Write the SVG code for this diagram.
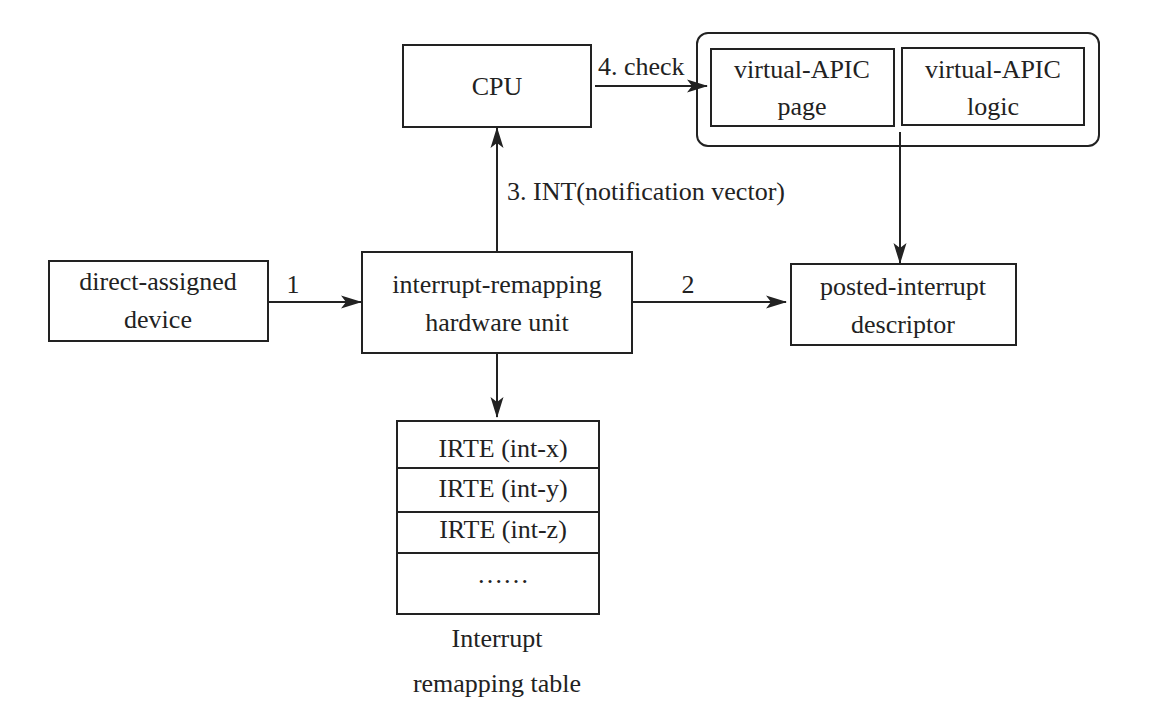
<svg xmlns="http://www.w3.org/2000/svg" width="1152" height="706" viewBox="0 0 1152 706">
<style>
.box{fill:#fff;stroke:#222;stroke-width:2}
.ln{fill:none;stroke:#222;stroke-width:2}
text{font-family:"Liberation Serif","Times New Roman",serif;font-size:26px;fill:#222;text-anchor:middle}
.l{text-anchor:start}
</style>
<defs>
<marker id="ah" markerUnits="userSpaceOnUse" markerWidth="21" markerHeight="14" refX="20" refY="7" orient="auto">
<path d="M0,0.5 L21,7 L0,13.5 L5,7 z" fill="#222"/>
</marker>
</defs>
<rect width="1152" height="706" fill="#fff"/>
<g id="cpu">
<rect class="box" x="403" y="45" width="188" height="82"/>
<text x="497" y="95">CPU</text>
</g>
<g id="vapic">
<rect class="box" x="697" y="33" width="402" height="113" rx="11"/>
<g id="vapic-page">
<rect class="box" x="711" y="49" width="183" height="77"/>
<text x="802" y="78">virtual-APIC</text>
<text x="802" y="115">page</text>
</g>
<g id="vapic-logic">
<rect class="box" x="902" y="48" width="182" height="77"/>
<text x="993" y="78">virtual-APIC</text>
<text x="993" y="115">logic</text>
</g>
</g>
<g id="device">
<rect class="box" x="49" y="261" width="219" height="80"/>
<text x="158" y="290">direct-assigned</text>
<text x="158" y="328">device</text>
</g>
<g id="irhu">
<rect class="box" x="362" y="252" width="270" height="101"/>
<text x="497" y="293">interrupt-remapping</text>
<text x="497" y="331">hardware unit</text>
</g>
<g id="pid">
<rect class="box" x="791" y="264" width="225" height="81"/>
<text x="903" y="295">posted-interrupt</text>
<text x="903" y="333">descriptor</text>
</g>
<g id="irt">
<rect class="box" x="397" y="421" width="202" height="193"/>
<line class="ln" x1="397" y1="468" x2="599" y2="468"/>
<line class="ln" x1="397" y1="512" x2="599" y2="512"/>
<line class="ln" x1="397" y1="553" x2="599" y2="553"/>
<text x="503" y="457">IRTE (int-x)</text>
<text x="503" y="497">IRTE (int-y)</text>
<text x="503" y="538">IRTE (int-z)</text>
<text x="503" y="583">……</text>
<text x="497" y="647">Interrupt</text>
<text x="497" y="692">remapping table</text>
</g>
<g id="connectors">
<line class="ln" x1="268" y1="302" x2="361" y2="302" marker-end="url(#ah)"/>
<text x="293" y="293">1</text>
<line class="ln" x1="632" y1="302" x2="786" y2="302" marker-end="url(#ah)"/>
<text x="688" y="293">2</text>
<line class="ln" x1="497" y1="252" x2="497" y2="128" marker-end="url(#ah)"/>
<text class="l" x="507" y="200">3. INT(notification vector)</text>
<line class="ln" x1="595" y1="86" x2="707" y2="86" marker-end="url(#ah)"/>
<text class="l" x="598" y="75">4. check</text>
<line class="ln" x1="900" y1="132" x2="900" y2="263" marker-end="url(#ah)"/>
<line class="ln" x1="497" y1="353" x2="497" y2="417" marker-end="url(#ah)"/>
</g>
</svg>
